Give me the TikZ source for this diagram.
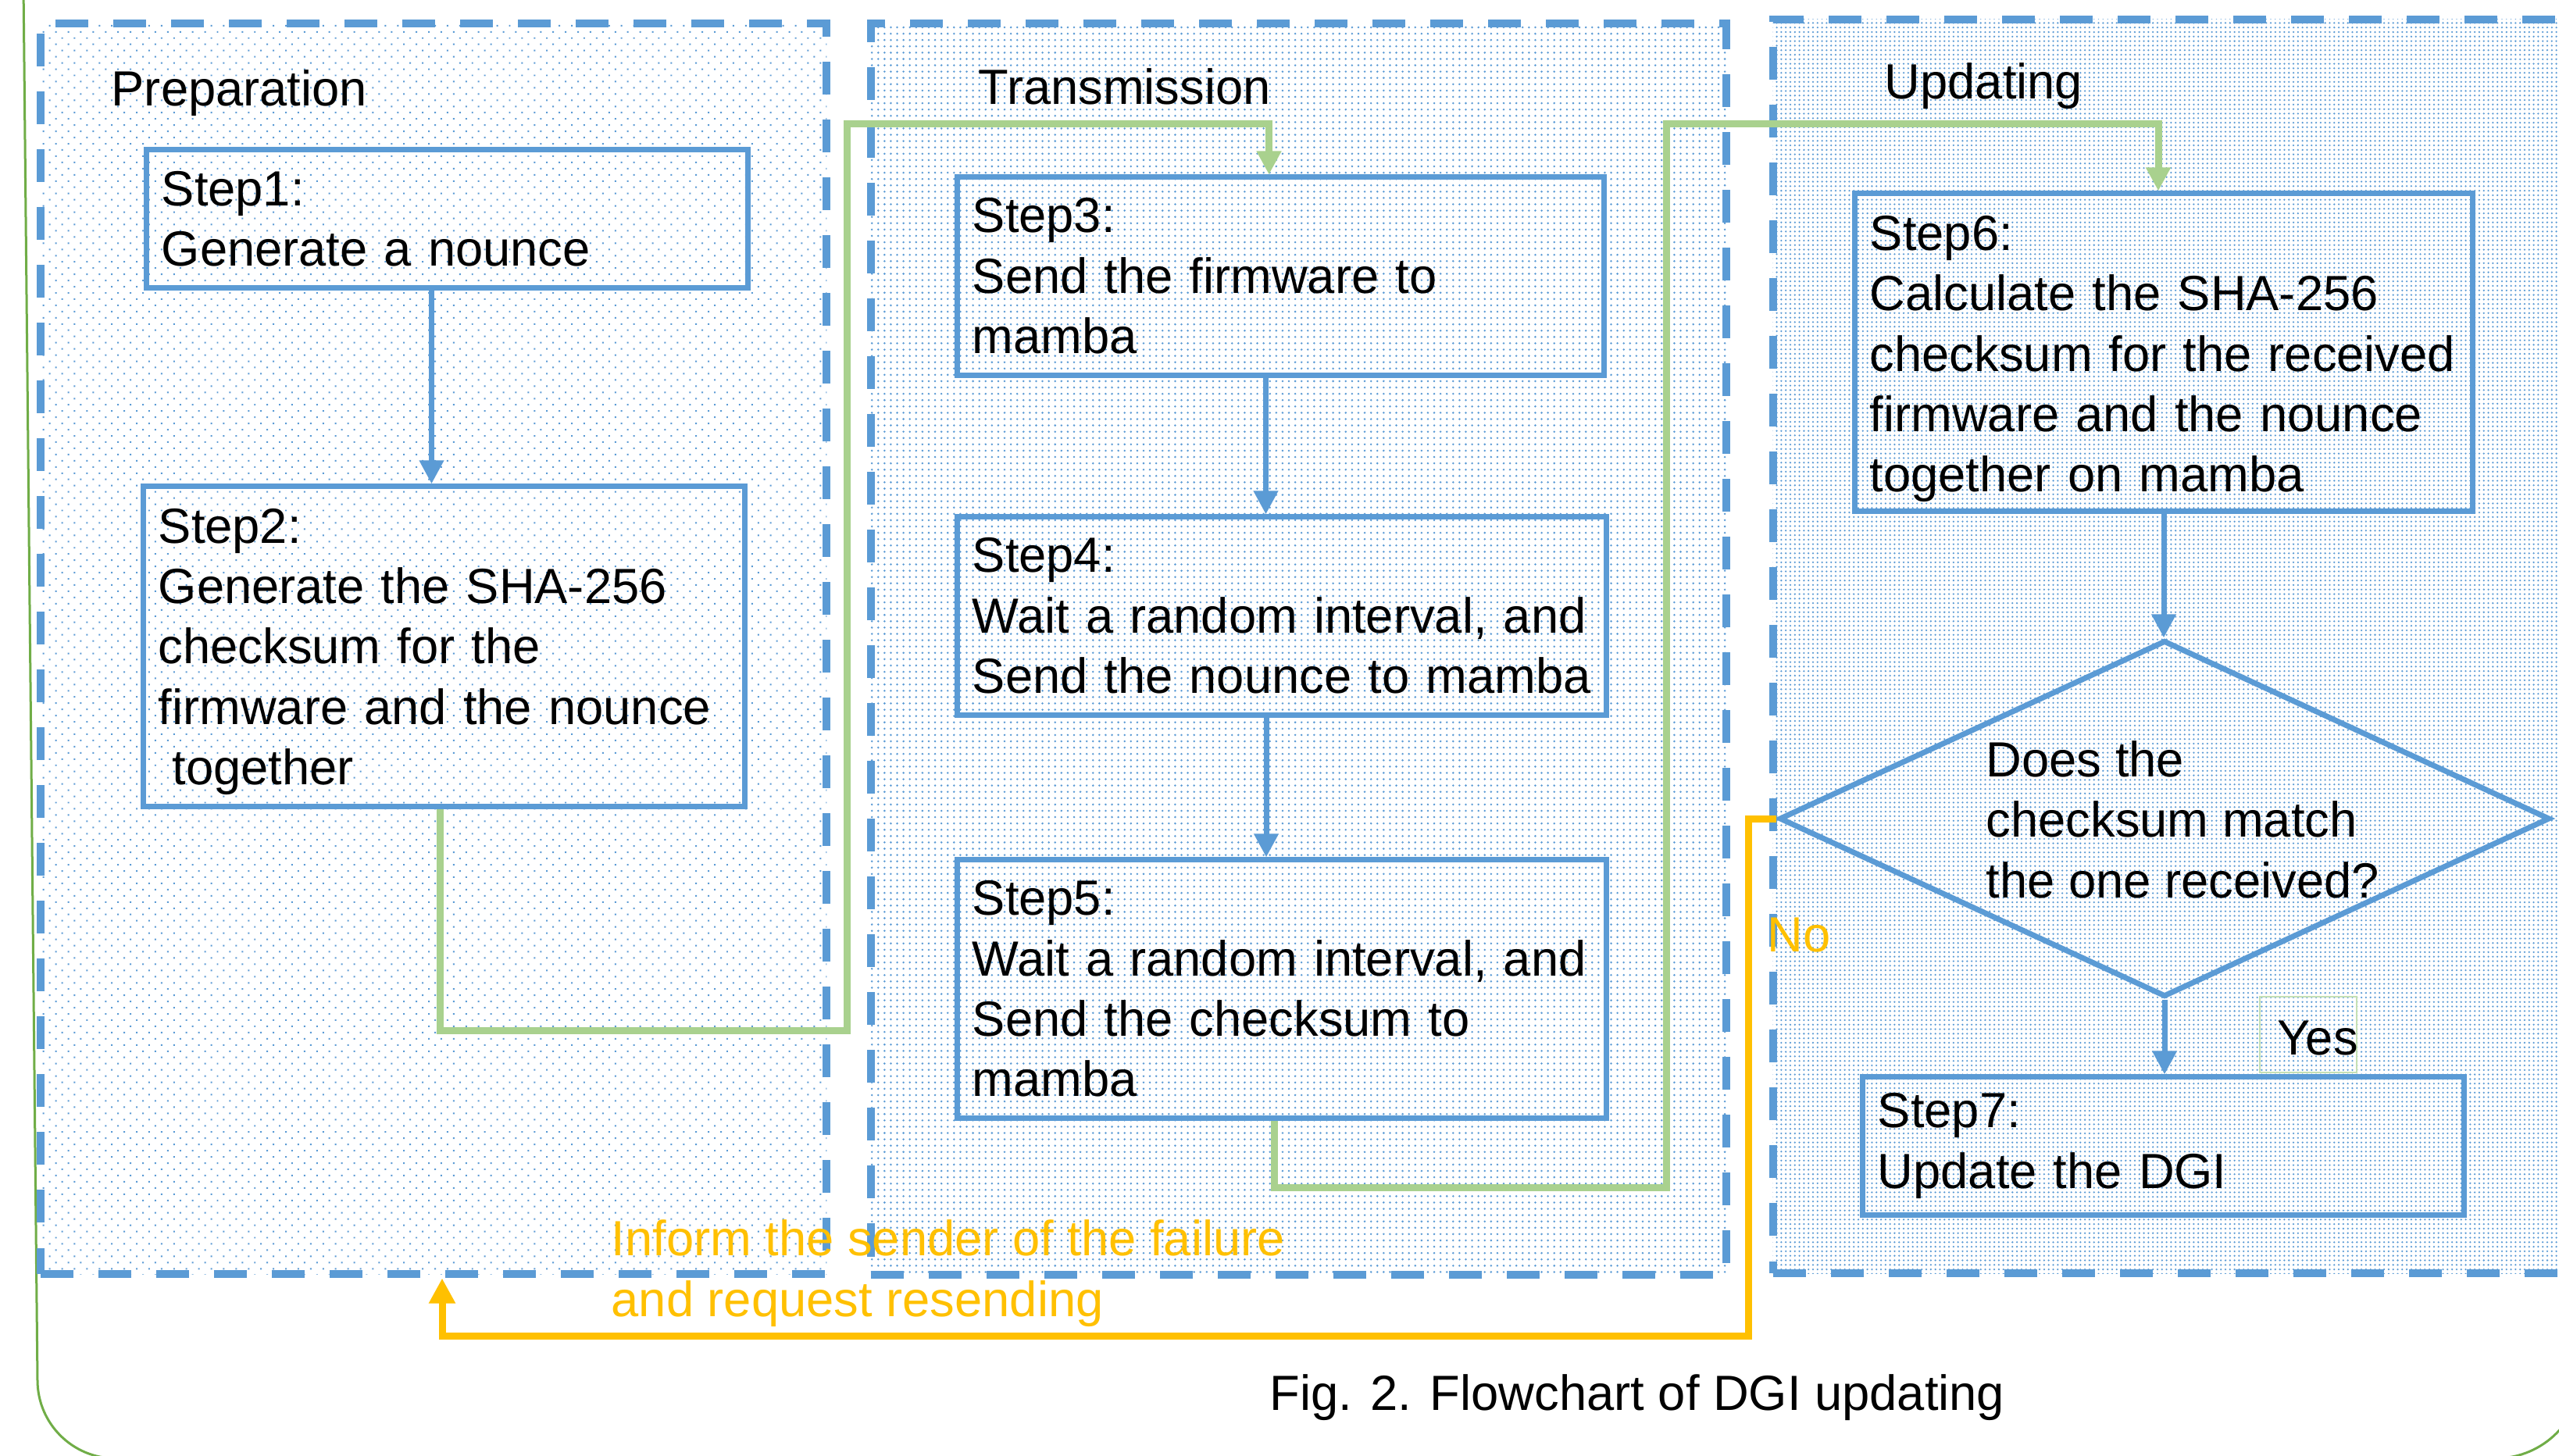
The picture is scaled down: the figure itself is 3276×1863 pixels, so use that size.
\documentclass[tikz,border=0pt]{standalone}
\usepackage{fontspec}
\setmainfont{Liberation Sans}
\usetikzlibrary{arrows.meta,shapes.geometric,patterns.meta}
\definecolor{blu}{RGB}{91,155,213}
\definecolor{grn}{RGB}{169,209,142}
\definecolor{org}{RGB}{255,192,0}
\definecolor{outg}{RGB}{112,173,71}
\definecolor{yesg}{RGB}{197,224,180}
\begin{document}
\begin{tikzpicture}[x=0.01cm,y=-0.01cm,
  every node/.style={font=\fontsize{18}{22}\selectfont},
  grp/.style={draw=blu, line width=0.1cm, dash pattern=on 0.42cm off 0.32cm, pattern color=blu, inner sep=0pt, anchor=center},
  stepbox/.style={draw=blu, line width=0.07cm, align=left, inner xsep=0.19cm, inner ysep=0pt, anchor=center},
  flow/.style={draw=blu, line width=0.07cm, -{Triangle[length=0.3cm,width=0.3cm]}},
  gflow/.style={draw=grn, line width=0.09cm, -{Triangle[length=0.3cm,width=0.3cm]}},
  oflow/.style={draw=org, line width=0.09cm, -{Triangle[length=0.32cm,width=0.32cm]}},
  ttl/.style={anchor=base west, inner sep=0pt},
]
\useasboundingbox (0,0) rectangle (3276,1863);
\fill[white] (0,0) rectangle (3276,1863);

% outer green frame
\draw[outg, line width=0.03cm] (30,-20) -- (48,1767) arc[start angle=180,end angle=270,radius=1cm]
  -- (3195,1867) arc[start angle=270,end angle=360,radius=1.1cm] -- (3305,-20);

% groups
\node[grp, pattern={Dots[distance=3.2pt,angle=45,radius=0.4pt]}, minimum width=10.06cm, minimum height=16.01cm] (prep) at (555,830.5) {};
\node[grp, pattern={Dots[distance=2.3pt,radius=0.4pt]}, minimum width=10.95cm, minimum height=16.02cm] (trans) at (1662.5,831) {};
\node[grp, pattern={Dots[distance=1.65pt,radius=0.36pt]}, minimum width=10.3cm, minimum height=16.05cm] (upd) at (2785,827.5) {};

\node[ttl] (tprep) at (142,135) {Preparation};
\node[ttl] (ttrans) at (1252,133) {Transmission};
\node[ttl] (tupd) at (2412,126) {Updating};

% steps
\node[stepbox, minimum width=7.69cm, minimum height=1.76cm, text width=7.31cm] (s1) at (572.5,280) {Step1:\\Generate a nounce};
\node[stepbox, minimum width=7.69cm, minimum height=4.09cm, text width=7.31cm] (s2) at (568.5,827.5) {\rule{0pt}{16.4pt}Step2:\\Generate the SHA-256\\checksum for the\\firmware and the nounce\\\hspace*{0.28em}together};
\node[stepbox, minimum width=8.27cm, minimum height=2.53cm, text width=7.89cm] (s3) at (1639.5,353.5) {Step3:\\Send the firmware to\\mamba};
\node[stepbox, minimum width=8.30cm, minimum height=2.53cm, text width=7.92cm] (s4) at (1641,788.5) {Step4:\\Wait a random interval, and\\Send the nounce to mamba};
\node[stepbox, minimum width=8.30cm, minimum height=3.30cm, text width=7.92cm] (s5) at (1641,1266) {Step5:\\Wait a random interval, and\\Send the checksum to\\mamba};
\node[stepbox, minimum width=7.90cm, minimum height=4.06cm, text width=7.52cm] (s6) at (2770,451) {\rule{0pt}{17.5pt}Step6:\\Calculate the SHA-256\\checksum for the received\\firmware and the nounce\\together on mamba};
\node[stepbox, minimum width=7.69cm, minimum height=1.76cm, text width=7.31cm] (s7) at (2769.5,1467) {Step7:\\Update the DGI};

\node[diamond, draw=blu, line width=0.07cm, minimum width=9.86cm, minimum height=4.56cm, inner sep=0pt] (dia) at (2771,1048) {};
\node[anchor=west, align=left, inner sep=0pt] (qtxt) at (2542,1049) {Does the\\checksum match\\the one received?};

% connectors
\draw[flow] ([xshift=-0.2cm]s1.south) -- ([xshift=-0.2cm]s1.south |- s2.north);
\draw[flow] ([xshift=-0.19cm]s3.south) -- ([xshift=-0.19cm]s3.south |- s4.north);
\draw[flow] ([xshift=-0.2cm]s4.south) -- ([xshift=-0.2cm]s4.south |- s5.north);
\draw[flow] (s6.south) -- (s6.south |- dia.north);
\draw[flow] (dia.south) -- (dia.south |- s7.north);

\draw[gflow] ([xshift=-0.05cm]s2.south) -- ++(0,284) -| (1084,158) -| ([xshift=-0.15cm]s3.north);
\draw[gflow] ([xshift=-0.1cm]s5.south) -- ++(0,86) -| (2133,158) -| ([xshift=-0.07cm]s6.north);

\draw[oflow] (dia.west) -| (2238,1710) -| ([xshift=0.11cm]prep.south);

\node[anchor=west, align=left, inner sep=0pt, text=org] (inform) at (782,1630) {Inform the sender of the failure\\and request resending};
\node[ttl, text=org] (no) at (2262,1218) {No};
\node[draw=yesg, line width=0.02cm, minimum width=1.24cm, minimum height=0.97cm, inner sep=0pt] (yes) at (2955,1324.5) {};
\node[inner sep=0pt] (yestxt) at ([xshift=0.12cm,yshift=-0.05cm]yes.center) {Yes};

\node[ttl] (cap) at (1625,1805) {Fig. 2. Flowchart of DGI updating};
\end{tikzpicture}
\end{document}
